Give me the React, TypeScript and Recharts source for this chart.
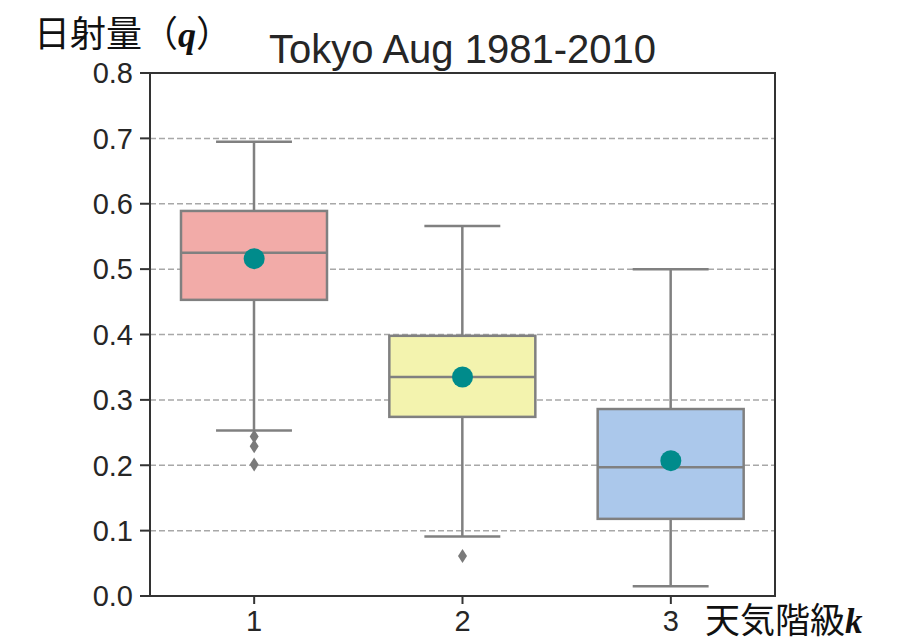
import React from 'react';
import {
  ComposedChart,
  Bar,
  Scatter,
  XAxis,
  YAxis,
  CartesianGrid,
  ReferenceArea,
} from 'recharts';

// 天気階級ごとの箱ひげ図（値は図から読み取り）
const categories = ['1', '2', '3'];
const whiskerLow = [0.253, 0.091, 0.015];
const quartile1 = [0.453, 0.274, 0.118];
const medians = [0.525, 0.335, 0.197];
const quartile3 = [0.589, 0.398, 0.286];
const whiskerHigh = [0.695, 0.566, 0.5];
const means = [0.516, 0.335, 0.207];
const boxColors = ['#f2aba8', '#f3f3ae', '#abc8eb'];

const outlierCategories = ['1', '1', '1', '2'];
const outlierValues = [0.244, 0.229, 0.201, 0.061];

const yTicks = [0, 0.1, 0.2, 0.3, 0.4, 0.5, 0.6, 0.7, 0.8];

const boxData = categories.map((k, i) => ({
  k,
  low: whiskerLow[i],
  q1: quartile1[i],
  median: medians[i],
  q3: quartile3[i],
  high: whiskerHigh[i],
  mean: means[i],
  color: boxColors[i],
}));

const outlierData = outlierValues.map((q, i) => ({ k: outlierCategories[i], q }));

const EDGE = '#808080';
const TEXT = '#262626';
const SANS = '"Liberation Sans", Arial, sans-serif';
const CJK = '"Noto Sans CJK JP", sans-serif';
const SERIF = '"Liberation Serif", serif';

// バーは [low, high] の範囲。y/height から同じスケールで四分位を配置
function BoxShape(props: any) {
  const { x, y, width, height, payload } = props;
  const { low, high, q1, median, q3, color } = payload;
  const toY = (v: number) => y + ((high - v) / (high - low)) * height;
  const cx = x + width / 2;
  const cap = width * 0.26;
  return (
    <g>
      <line x1={cx} x2={cx} y1={toY(high)} y2={toY(low)} stroke={EDGE} strokeWidth={2.5} />
      <line x1={cx - cap} x2={cx + cap} y1={toY(high)} y2={toY(high)} stroke={EDGE} strokeWidth={2.5} />
      <line x1={cx - cap} x2={cx + cap} y1={toY(low)} y2={toY(low)} stroke={EDGE} strokeWidth={2.5} />
      <rect
        x={x}
        y={toY(q3)}
        width={width}
        height={toY(q1) - toY(q3)}
        fill={color}
        stroke={EDGE}
        strokeWidth={2.5}
      />
      <line x1={x} x2={x + width} y1={toY(median)} y2={toY(median)} stroke={EDGE} strokeWidth={2.5} />
    </g>
  );
}

function Diamond(props: any) {
  const { cx, cy } = props;
  return (
    <polygon
      points={`${cx},${cy - 7} ${cx + 4.5},${cy} ${cx},${cy + 7} ${cx - 4.5},${cy}`}
      fill="#7a7a7a"
    />
  );
}

function MeanDot(props: any) {
  return <circle cx={props.cx} cy={props.cy} r={10.5} fill="#008b8b" />;
}

export default function App() {
  return (
    <div style={{ position: 'absolute', left: 0, top: 0, width: 906, height: 644, background: '#fff' }}>
      <ComposedChart
        width={906}
        height={644}
        data={boxData}
        margin={{ top: 73, right: 131, left: 70, bottom: 8 }}
      >
        <CartesianGrid
          vertical={false}
          stroke="#a8a8a8"
          strokeDasharray="6 3"
          strokeWidth={1.5}
        />
        <XAxis
          dataKey="k"
          type="category"
          allowDuplicatedCategory={false}
          height={40}
          tickSize={8}
          tickMargin={6}
          axisLine={{ stroke: '#333', strokeWidth: 2 }}
          tickLine={{ stroke: '#333', strokeWidth: 2 }}
          tick={{ fill: TEXT, fontSize: 29, fontFamily: SANS }}
        />
        <YAxis
          type="number"
          domain={[0, 0.8]}
          ticks={yTicks}
          interval={0}
          width={80}
          tickSize={10}
          tickMargin={7}
          tickFormatter={(v: number) => v.toFixed(1)}
          axisLine={{ stroke: '#333', strokeWidth: 2 }}
          tickLine={{ stroke: '#333', strokeWidth: 2 }}
          tick={{ fill: TEXT, fontSize: 29, fontFamily: SANS }}
        />
        <Bar
          dataKey={(d: any) => [d.low, d.high]}
          barSize={146}
          shape={BoxShape}
          isAnimationActive={false}
        />
        <Scatter data={outlierData} dataKey="q" shape={Diamond} isAnimationActive={false} />
        <Scatter dataKey="mean" shape={MeanDot} isAnimationActive={false} />
        <ReferenceArea y1={0} y2={0.8} fill="none" fillOpacity={0} stroke="#333" strokeWidth={2} />
      </ComposedChart>
      <svg
        width={906}
        height={644}
        style={{ position: 'absolute', left: 0, top: 0, pointerEvents: 'none' }}
      >
        <text x={462.5} y={63} textAnchor="middle" fontSize={40} fontFamily={SANS} fill={TEXT}>
          Tokyo Aug 1981-2010
        </text>
        <text x={34} y={47} fontSize={36} fontFamily={CJK} fill="#111">
          日射量（
          <tspan fontFamily={SERIF} fontStyle="italic" fontWeight="bold">q</tspan>
          ）
        </text>
        <text x={705} y={633} fontSize={35} fontFamily={CJK} fill="#111">
          天気階級
          <tspan fontFamily={SERIF} fontStyle="italic" fontWeight="bold">k</tspan>
        </text>
      </svg>
    </div>
  );
}
